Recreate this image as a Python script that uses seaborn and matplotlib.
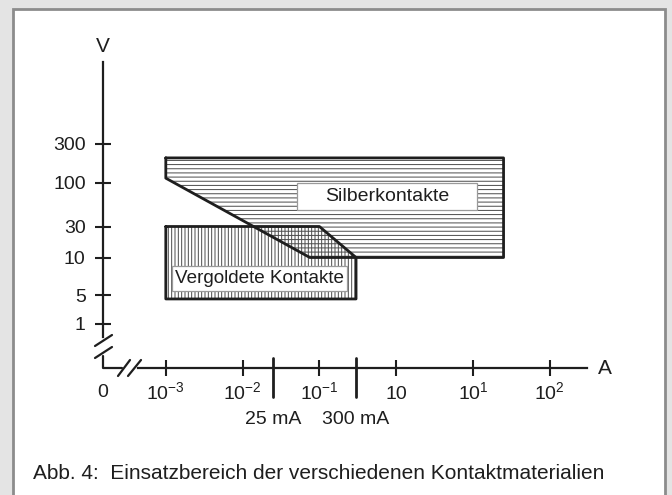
import numpy as np
import matplotlib
matplotlib.use("Agg")
import matplotlib.pyplot as plt
import seaborn as sns
from matplotlib.path import Path
from matplotlib.patches import Rectangle
from matplotlib.lines import Line2D
from matplotlib.ticker import NullLocator

# --- data (current in A, voltage in V) ---
x_ticks = [1e-3, 1e-2, 1e-1, 1, 10, 100]
x_labels = ["$10^{-3}$", "$10^{-2}$", "$10^{-1}$", "10", "$10^{1}$", "$10^{2}$"]
v_ticks = [1, 5, 10, 30, 100, 300]
v_labels = ["1", "5", "10", "30", "100", "300"]

mark_currents = [0.025, 0.3]
mark_labels = ["25 mA", "300 mA"]

silver_I = [1e-3, 25, 25, 0.075, 1e-3]
silver_V = [200, 200, 10, 10, 113]
gold_I = [1e-3, 0.1, 0.3, 0.3, 1e-3]
gold_V = [30, 30, 10, 4, 4]

caption = "Abb. 4:  Einsatzbereich der verschiedenen Kontaktmaterialien"

# --- layout ---
W, H = 672, 495
v_tick_h = [171.5, 200, 237.5, 268.5, 312.5, 351.5]   # px from bottom
x_px0, x_px_dec = 396.2, 76.8                        # px of 1 A, px per decade

lt = np.log10(v_ticks)
s_lo = (v_tick_h[1] - v_tick_h[0]) / (lt[1] - lt[0])
s_hi = (v_tick_h[-1] - v_tick_h[-2]) / (lt[-1] - lt[-2])


def v_fwd(v):
    lv = np.log10(np.maximum(np.asarray(v, float), 1e-12))
    h = np.interp(lv, lt, v_tick_h)
    h = np.where(lv < lt[0], v_tick_h[0] + (lv - lt[0]) * s_lo, h)
    h = np.where(lv > lt[-1], v_tick_h[-1] + (lv - lt[-1]) * s_hi, h)
    return h


def v_inv(h):
    h = np.asarray(h, float)
    lv = np.interp(h, v_tick_h, lt)
    lv = np.where(h < v_tick_h[0], lt[0] + (h - v_tick_h[0]) / s_lo, lv)
    lv = np.where(h > v_tick_h[-1], lt[-1] + (h - v_tick_h[-1]) / s_hi, lv)
    return 10 ** lv


def a_at(px):
    return 10 ** ((px - x_px0) / x_px_dec)


def fig_xy(x, y):
    return x / W, 1 - y / H


def box_style(padx, pady):
    def style(x0, y0, width, height, mutation_size):
        dx, dy = padx * mutation_size, pady * mutation_size
        x0, y0 = x0 - dx, y0 - dy
        x1, y1 = x0 + width + 2 * dx, y0 + height + 2 * dy
        return Path([(x0, y0), (x1, y0), (x1, y1), (x0, y1), (x0, y0)], closed=True)
    return style


sns.set_theme(style="white")
plt.rcParams["font.family"] = ["Liberation Sans", "DejaVu Sans"]
plt.rcParams["mathtext.fontset"] = "custom"
plt.rcParams["mathtext.rm"] = "Liberation Sans"
plt.rcParams["mathtext.it"] = "Liberation Sans:italic"
plt.rcParams["hatch.linewidth"] = 0.7

ink = "#1e1e1e"
fig = plt.figure(figsize=(W / 100, H / 100), dpi=100, facecolor="#e4e4e4")
fig.patches.append(Rectangle(fig_xy(13, 520), (665 - 13) / W, (520 - 9) / H,
                             transform=fig.transFigure, facecolor="white",
                             edgecolor="#8c8c8c", lw=2, zorder=-5))

ax = fig.add_axes([0, 0, 1, 1])
ax.set_zorder(2)
ax.patch.set_alpha(0)
ax.set_xscale("log")
ax.set_yscale("function", functions=(v_fwd, v_inv))
ax.set_xlim(a_at(0), a_at(W))
ax.set_ylim(v_inv(0), v_inv(H))

# hatched regions
ax.fill(silver_I, silver_V, facecolor="none", edgecolor="#4a4a4a", lw=0, hatch="----", zorder=1)
ax.fill(gold_I, gold_V, facecolor="none", edgecolor="#4a4a4a", lw=0, hatch="|||||", zorder=1)
for xs, ys in [(silver_I, silver_V), (gold_I, gold_V)]:
    sns.lineplot(x=xs + xs[:1], y=ys + ys[:1], sort=False, estimator=None,
                 color=ink, lw=2, ax=ax, zorder=3)

ax.text(0.76, 68, "Silberkontakte", fontsize=14, color=ink, ha="center", va="center", zorder=4,
        bbox=dict(boxstyle=box_style(1.42, 0.27), facecolor="white", edgecolor="#9a9a9a", lw=0.9))
ax.text(0.0165, 6.8, "Vergoldete Kontakte", fontsize=13.6, color=ink, ha="center", va="center", zorder=4,
        bbox=dict(boxstyle=box_style(0.15, 0.2), facecolor="white", edgecolor="#9a9a9a", lw=0.9))

# axes with breaks
a0 = a_at(103)
v0 = v_inv(H - 368)
for side in ["top", "right"]:
    ax.spines[side].set_visible(False)
ax.spines["left"].set_position(("data", a0))
ax.spines["bottom"].set_position(("data", v0))
ax.spines["left"].set_bounds(v_inv(H - 337), v_inv(H - 62))
ax.spines["bottom"].set_bounds(a_at(138), a_at(587))
for side in ["left", "bottom"]:
    ax.spines[side].set_color(ink)
    ax.spines[side].set_linewidth(1.6)

ax.set_xticks(x_ticks)
ax.set_xticklabels(x_labels, va="baseline")
ax.set_yticks(v_ticks, labels=v_labels)
ax.xaxis.set_minor_locator(NullLocator())
ax.yaxis.set_minor_locator(NullLocator())
ax.tick_params(axis="both", which="major", bottom=True, left=True, direction="inout",
               length=11, width=1.5, color=ink, labelcolor=ink, labelsize=14)
ax.tick_params(axis="y", pad=7)
ax.tick_params(axis="x", pad=17)
ax.grid(False)

for x, lab in zip(mark_currents, mark_labels):
    ax.axvline(x, ymin=(H - 397) / H, ymax=(H - 358) / H, color=ink, lw=2)
    ax.text(x, v_inv(H - 419), lab, fontsize=14, color=ink, ha="center", va="center")

ax.text(a0, v_inv(H - 397), "0", fontsize=14, color=ink, ha="center", va="baseline")
ax.text(a_at(605), v0, "A", fontsize=15, color=ink, ha="center", va="center")
ax.text(a0, v_inv(H - 47), "V", fontsize=15, color=ink, ha="center", va="center")

for pts in [[(103, 356), (103, 368), (122, 368)],
            [(95, 346), (112, 335)], [(95, 358), (112, 347)],
            [(118, 376), (130, 360)], [(128, 376), (141, 360)]]:
    xs, ys = zip(*[fig_xy(*p) for p in pts])
    fig.add_artist(Line2D(xs, ys, color=ink, lw=1.6, transform=fig.transFigure))

fig.text(33 / W, 1 - 479 / H, caption, fontsize=15, color=ink, ha="left", va="baseline")

fig.savefig("out.png", dpi=100)
